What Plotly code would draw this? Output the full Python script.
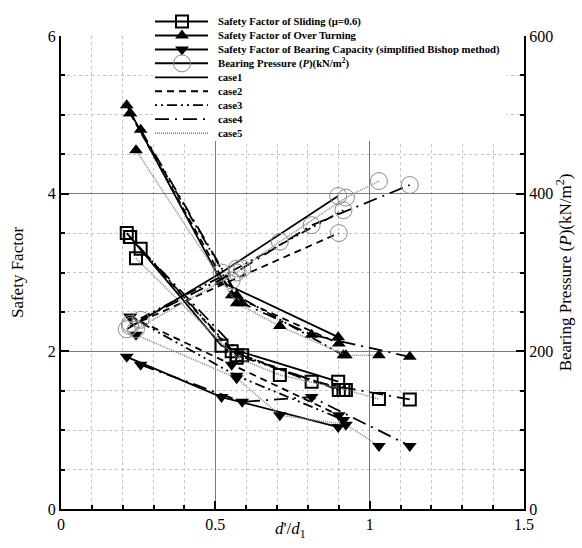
import plotly.graph_objects as go

# ---------------- data ----------------
case_names = ["case1", "case2", "case3", "case4", "case5"]

x_case1 = [0.213, 0.52, 0.898]
sl_case1 = [3.50, 2.07, 1.615]
ot_case1 = [5.12, 2.88, 2.18]
bc_case1 = [1.93, 1.42, 1.04]
p_case1 = [228, 300, 397]

x_case2 = [0.224, 0.553, 0.90]
sl_case2 = [3.45, 2.00, 1.51]
ot_case2 = [5.02, 2.71, 2.10]
bc_case2 = [2.44, 1.83, 1.19]
p_case2 = [232, 290, 350]

x_case3 = [0.224, 0.569, 0.915]
sl_case3 = [3.45, 1.95, 1.51]
ot_case3 = [5.02, 2.71, 1.95]
bc_case3 = [2.44, 1.69, 1.13]
p_case3 = [235, 305, 379]

x_case4 = [0.258, 0.587, 0.812, 1.13]
sl_case4 = [3.30, 1.95, 1.615, 1.39]
ot_case4 = [4.81, 2.61, 2.21, 1.93]
bc_case4 = [1.83, 1.36, 1.42, 0.80]
p_case4 = [240, 305, 360, 411]

x_case5 = [0.243, 0.569, 0.709, 0.923, 1.03]
sl_case5 = [3.18, 1.92, 1.70, 1.51, 1.395]
ot_case5 = [4.55, 2.61, 2.32, 1.95, 1.95]
bc_case5 = [2.21, 1.66, 1.19, 1.07, 0.80]
p_case5 = [228, 300, 339, 395, 416]

x_tick_vals = [0, 0.5, 1, 1.5]
x_tick_text = ["0", "0.5", "1", "1.5"]
y_tick_vals = [0, 2, 4, 6]
p_tick_vals = [0, 200, 400, 600]

quantity_names = [
    "Safety Factor of Sliding (\u03bc=0.6)",
    "Safety Factor of Over Turning",
    "Safety Factor of Bearing Capacity (simplified Bishop method)",
    "Bearing Pressure (<i>P</i>)(kN/m<sup>2</sup>)",
]
x_title = "<i>d</i>'/<i>d</i><sub>1</sub>"
y_title = "Safety Factor"
y2_title = "Bearing Pressure (<i>P</i>)(kN/m<sup>2</sup>)"

# ---------------- styling / layout constants ----------------
FONT = "Liberation Serif"
W, H = 582, 548
PL, PR, PT, PB = 61, 524, 36, 509          # plot-area edges in px

case_x = [x_case1, x_case2, x_case3, x_case4, x_case5]
case_sl = [sl_case1, sl_case2, sl_case3, sl_case4, sl_case5]
case_ot = [ot_case1, ot_case2, ot_case3, ot_case4, ot_case5]
case_bc = [bc_case1, bc_case2, bc_case3, bc_case4, bc_case5]
case_p = [p_case1, p_case2, p_case3, p_case4, p_case5]

case_dash = ["solid", "7px,5px", "2px,4px,2px,4px,10px,4px", "14px,6px,2px,6px", "1px,1px"]
case_color = ["black", "black", "black", "black", "#8c8c8c"]
case_width = [1.8, 1.8, 1.8, 1.8, 1.6]

sq = dict(symbol="square-open", size=12, color="black", line=dict(width=2, color="black"))
tu = dict(symbol="triangle-up", size=12, color="black", line=dict(width=0))
td = dict(symbol="triangle-down", size=12, color="black", line=dict(width=0))
ci = dict(symbol="circle-open", size=17, color="#8a8a8a", line=dict(width=1, color="#8a8a8a"))

fig = go.Figure()

for i in range(5):
    ln = dict(color=case_color[i], width=case_width[i], dash=case_dash[i])
    for yv, mk in ((case_sl[i], sq), (case_ot[i], tu), (case_bc[i], td)):
        fig.add_trace(go.Scatter(x=case_x[i], y=yv, mode="lines+markers",
                                 line=ln, marker=mk, showlegend=False,
                                 xaxis="x", yaxis="y"))
    fig.add_trace(go.Scatter(x=case_x[i], y=case_p[i], mode="lines+markers",
                             line=ln, marker=ci, showlegend=False,
                             xaxis="x", yaxis="y2"))

# ---------------- legend (drawn on a pixel-space overlay subplot) ----------------
LEG_BOX = (153, 507, 6, 141)      # left, right, top, bottom (px)
LEG_ROW0, LEG_STEP = 21.5, 13.95
LEG_L0, LEG_L1, LEG_MK, LEG_TX = 155, 208, 182, 216

bx0, bx1, by0, by1 = LEG_BOX
fig.add_trace(go.Scatter(x=[bx0, bx1, bx1, bx0, bx0], y=[by0, by0, by1, by1, by0],
                         mode="lines", fill="toself", fillcolor="white",
                         line=dict(width=0, color="white"), showlegend=False,
                         hoverinfo="skip", xaxis="x2", yaxis="y3"))

leg_labels = quantity_names + case_names
leg_markers = [sq, tu, td, ci] + [None] * 5
leg_lines = [dict(color="black", width=2)] * 4 + [
    dict(color=case_color[i], width=case_width[i], dash=case_dash[i]) for i in range(5)]

for k, (lab, mk, ln) in enumerate(zip(leg_labels, leg_markers, leg_lines)):
    yy = LEG_ROW0 + k * LEG_STEP
    fig.add_trace(go.Scatter(x=[LEG_L0, LEG_L1], y=[yy, yy], mode="lines", line=ln,
                             showlegend=False, hoverinfo="skip", xaxis="x2", yaxis="y3"))
    if mk is not None:
        fig.add_trace(go.Scatter(x=[LEG_MK], y=[yy], mode="markers", marker=mk,
                                 showlegend=False, hoverinfo="skip", xaxis="x2", yaxis="y3"))
    fig.add_annotation(x=LEG_TX, y=yy, xref="x2", yref="y3", text="<b>" + lab + "</b>",
                       showarrow=False, xanchor="left", yanchor="middle",
                       font=dict(family=FONT, size=10.7, color="black"))

axis_font = dict(family=FONT, size=16, color="black")
title_font = dict(family=FONT, size=17, color="black")

# x-axis title placed just under the tick labels
fig.add_annotation(x=(PL + PR) / 2 - 2, y=530, xref="x2", yref="y3", text=x_title,
                   showarrow=False, xanchor="center", yanchor="middle", font=title_font)

fig.update_layout(
    width=W, height=H,
    margin=dict(l=0, r=0, t=0, b=0),
    paper_bgcolor="white", plot_bgcolor="rgba(0,0,0,0)",
    font=dict(family=FONT, color="black"),
    showlegend=False,
    xaxis=dict(domain=[PL / W, PR / W], range=[0, 1.5], tickvals=x_tick_vals, ticktext=x_tick_text,
               anchor="y", automargin=False,
               showline=True, linecolor="black", linewidth=2,
               ticks="inside", ticklen=8, tickwidth=2, tickcolor="black",
               tickfont=axis_font, zeroline=False,
               showgrid=True, gridcolor="#7a7a7a", gridwidth=1,
               minor=dict(dtick=0.1, showgrid=True, gridcolor="#c4c4c4", griddash="dot",
                          ticks="inside", ticklen=4, tickcolor="black")),
    yaxis=dict(domain=[(H - PB) / H, (H - PT) / H], range=[0, 6], tickvals=y_tick_vals,
               anchor="x", automargin=False,
               showline=True, linecolor="black", linewidth=2,
               ticks="inside", ticklen=8, tickwidth=2, tickcolor="black",
               tickfont=axis_font, zeroline=False,
               showgrid=True, gridcolor="#7a7a7a", gridwidth=1,
               minor=dict(dtick=0.5, showgrid=True, gridcolor="#c4c4c4", griddash="dot",
                          ticks="inside", ticklen=4, tickcolor="black"),
               title=dict(text=y_title, font=title_font, standoff=20)),
    yaxis2=dict(range=[0, 600], tickvals=p_tick_vals, overlaying="y", side="right",
                anchor="x", automargin=False,
                showline=True, linecolor="black", linewidth=2,
                ticks="inside", ticklen=8, tickwidth=2, tickcolor="black",
                tickfont=axis_font, zeroline=False, showgrid=False,
                minor=dict(dtick=50, ticks="inside", ticklen=4, tickcolor="black"),
                title=dict(text=y2_title, font=title_font, standoff=4)),
    xaxis2=dict(domain=[0, 1], range=[0, W], anchor="y3", visible=False, fixedrange=True),
    yaxis3=dict(domain=[0, 1], range=[H, 0], anchor="x2", visible=False, fixedrange=True),
)

fig.write_html("out.html")
